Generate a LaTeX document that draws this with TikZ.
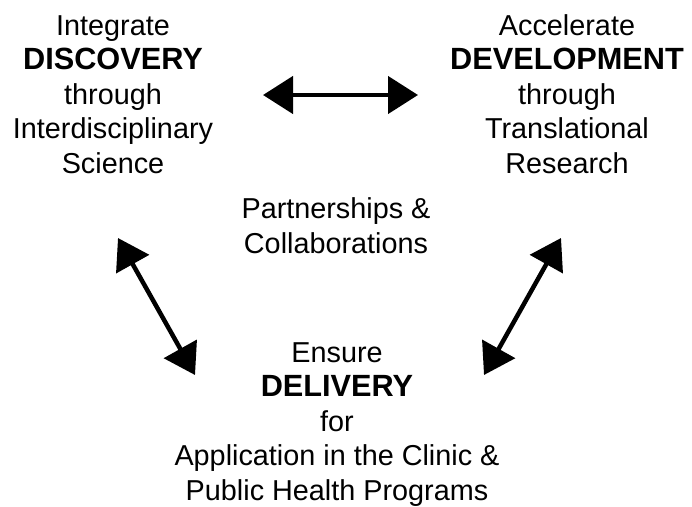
\documentclass[tikz,border=0pt]{standalone}
\usepackage{fontspec}
\setmainfont{Liberation Sans}
\usetikzlibrary{arrows.meta}

\newcommand{\keyword}[1]{{\fontsize{30.7}{34.5}\selectfont\bfseries #1}}

\tikzset{
  goal/.style={align=center, anchor=base, inner sep=0pt,
    font=\fontsize{28.8}{34.5}\selectfont},
  link/.style={{Triangle[length=30pt,width=37pt]}-{Triangle[length=30pt,width=37pt]},
    line width=4.5pt},
}

\begin{document}
\begin{tikzpicture}[x=1pt,y=-1pt]
        \useasboundingbox (0,0) rectangle (692,506);

        % The three goals and the centre (placed by the base of their last line)
        \node[goal] (discovery) at (113,173) {Integrate\\\keyword{DISCOVERY}\\through\\Interdisciplinary\\Science};
        \node[goal] (development) at (567,173) {Accelerate\\\keyword{DEVELOPMENT}\\through\\Translational\\Research};
        \node[goal] (partners) at (336,253) {Partnerships \&\\Collaborations};
        \node[goal] (delivery) at (337,500) {Ensure\\\keyword{DELIVERY}\\for\\Application in the Clinic \&\\Public Health Programs};

        % Arrow ends
        \coordinate (disc-dev) at (263,95);
        \coordinate (dev-disc) at (418,95);
        \coordinate (disc-del) at (118,238);
        \coordinate (del-disc) at (195,375);
        \coordinate (dev-del) at (561,238);
        \coordinate (del-dev) at (484,375);

        % Links between the goals
        \draw[link] (disc-dev) -- (dev-disc);
        \draw[link] (disc-del) -- (del-disc);
        \draw[link] (dev-del) -- (del-dev);
\end{tikzpicture}
\end{document}
